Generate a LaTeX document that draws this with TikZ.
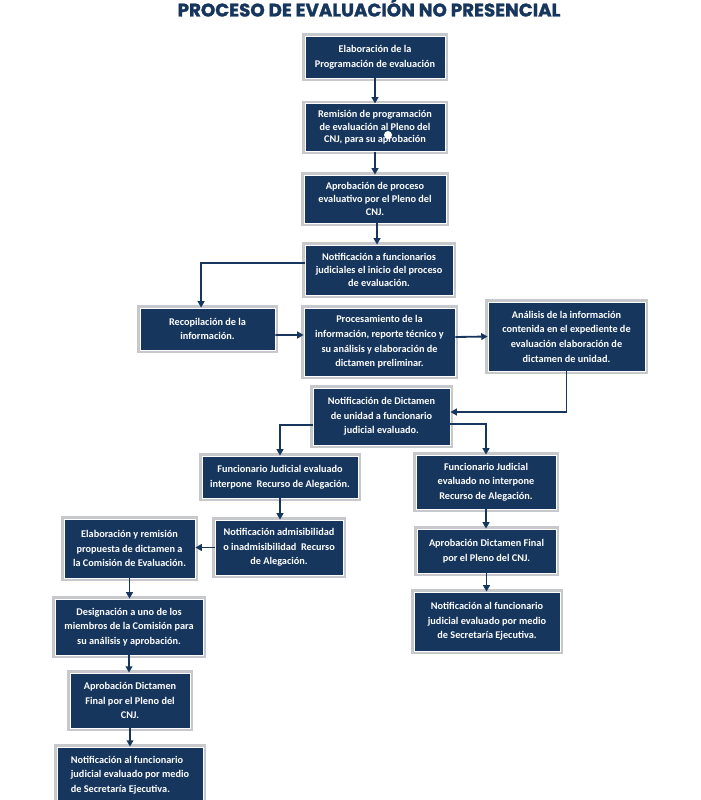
\documentclass[tikz,border=0pt]{standalone}
\usepackage{fontspec}
\setmainfont{Carlito}
\newfontfamily\titlefont{Poppins}[BoldFeatures={FakeBold=1.5}]
\usetikzlibrary{arrows.meta}
\definecolor{navy}{RGB}{23,54,93}
\definecolor{framegray}{RGB}{198,200,204}
\begin{document}
\begin{tikzpicture}[x=0.025cm,y=-0.025cm,
    box/.style={fill=navy, draw=white, line width=0.6pt,
      preaction={draw=framegray, line width=3.6pt},
      text=white, align=center, inner sep=1pt,
      font=\fontsize{7.3}{10.4}\selectfont\bfseries},
    tight/.style={font=\fontsize{7.3}{9}\selectfont\bfseries},
    flow/.style={draw=navy, line width=1.3pt,
      -{Triangle[length=4.5pt,width=4.8pt]}}]
  \useasboundingbox (0,0) rectangle (700,800);
  \node[anchor=base, text=navy, font=\titlefont\bfseries\fontsize{13}{15}\selectfont]
    (title) at (369,16.5) {PROCESO DE EVALUACIÓN NO PRESENCIAL};
  \draw
    (375,57) node[box, minimum width=3.5cm, minimum height=1.05cm] (1)
      {Elaboración de la\\Programación de evaluación}
    (375,127.5) node[box, tight, minimum width=3.5cm, minimum height=1.18cm] (2)
      {Remisión de programación\\de evaluación al Pleno del\\CNJ, para su aprobación}
    (375,199) node[box, tight, minimum width=3.55cm, minimum height=1.2cm] (3)
      {Aprobación de proceso\\evaluativo por el Pleno del\\CNJ.}
    (379,270) node[box, tight, minimum width=3.7cm, minimum height=1.25cm] (4)
      {Notificación a funcionarios\\judiciales el inicio del proceso\\de evaluación.}
    (207.5,329) node[box, minimum width=3.375cm, minimum height=1.05cm] (5)
      {Recopilación de la\\información.}
    (379.5,342) node[box, minimum width=3.775cm, minimum height=1.7cm] (6)
      {Procesamiento de la\\información, reporte técnico y\\su análisis y elaboración de\\dictamen preliminar.}
    (566.5,336.5) node[box, minimum width=3.925cm, minimum height=1.725cm] (7)
      {Análisis de la información\\contenida en el expediente de\\evaluación elaboración de\\dictamen de unidad.}
    (381.5,416.5) node[box, minimum width=3.425cm, minimum height=1.425cm] (8)
      {Notificación de Dictamen\\de unidad a funcionario\\judicial evaluado.}
    (280,477) node[box, minimum width=3.9cm, minimum height=1.05cm] (9)
      {Funcionario Judicial evaluado\\interpone\ \ Recurso de Alegación.}
    (486,482) node[box, minimum width=3.5cm, minimum height=1.35cm] (10)
      {Funcionario Judicial\\evaluado no interpone\\Recurso de Alegación.}
    (279,547.5) node[box, minimum width=3.2cm, minimum height=1.375cm] (11)
      {Notificación admisibilidad\\o inadmisibilidad\ \ Recurso\\de Alegación.}
    (129.5,548.5) node[box, minimum width=3.275cm, minimum height=1.475cm] (12)
      {Elaboración y remisión\\propuesta de dictamen a\\la Comisión de Evaluación.}
    (486.5,551) node[box, minimum width=3.475cm, minimum height=1.1cm] (13)
      {Aprobación Dictamen Final\\por el Pleno del CNJ.}
    (487,621.5) node[box, minimum width=3.65cm, minimum height=1.475cm] (14)
      {Notificación al funcionario\\judicial evaluado por medio\\de Secretaría Ejecutiva.}
    (129,627) node[box, minimum width=3.7cm, minimum height=1.4cm] (15)
      {Designación a uno de los\\miembros de la Comisión para\\su análisis y aprobación.}
    (130,700.5) node[box, minimum width=3cm, minimum height=1.375cm] (16)
      {Aprobación Dictamen\\Final por el Pleno del\\CNJ.}
    (130,775) node[box, align=left, minimum width=3.65cm, minimum height=1.4cm] (17)
      {Notificación al funcionario\\judicial evaluado por medio\\de Secretaría Ejecutiva.};
  \fill[white] (388,135) circle[radius=0.1cm];
  \begin{scope}[flow]
    \draw (1.south) -- (1.south |- 2.north);
    \draw (2.south) -- (2.south |- 3.north);
    \draw ([xshift=0.05cm]3.south) -- ([xshift=0.05cm]3.south |- 4.north);
    \draw ([yshift=0.175cm]4.west) -| ([xshift=-0.16cm]5.north);
    \draw ([yshift=-0.15cm]5.east) -- ([yshift=0.175cm]6.west);
    \draw ([yshift=0.125cm]6.east) -- (7.west);
    \draw (7.south) |- ([yshift=0.1125cm]8.east);
    \draw ([yshift=-0.2125cm]8.west) -| (9.north);
    \draw ([yshift=-0.1875cm]8.east) -| (10.north);
    \draw (9.south) -- (9.south |- 11.north);
    \draw (11.west) -- (11.west -| 12.east);
    \draw (12.south) -- (12.south |- 15.north);
    \draw (15.south) -- (15.south |- 16.north);
    \draw (16.south) -- (16.south |- 17.north);
    \draw (10.south) -- (10.south |- 13.north);
    \draw (13.south) -- (13.south |- 14.north);
  \end{scope}
\end{tikzpicture}
\end{document}
